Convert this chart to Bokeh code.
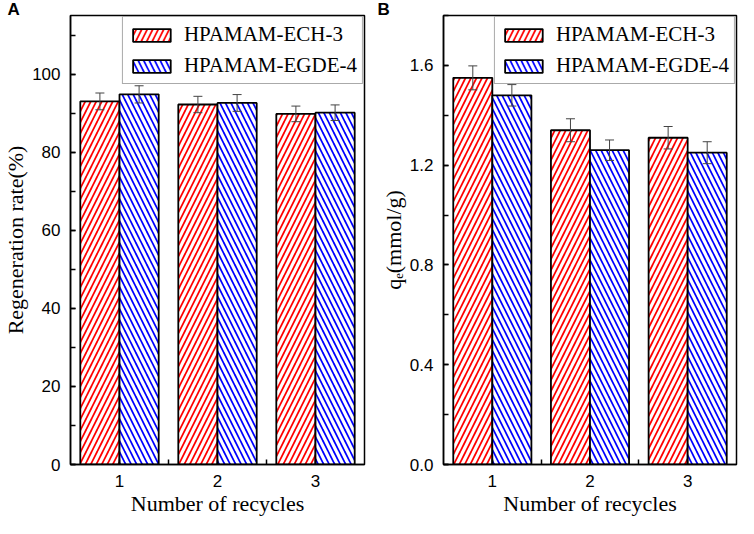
from bokeh.plotting import figure
from bokeh.models import (ColumnDataSource, Whisker, SingleIntervalTicker, FixedTicker,
                          Range1d, Legend, LegendItem, TeeHead, PrintfTickFormatter)
from bokeh.layouts import row
from bokeh.embed import file_html
from bokeh.resources import INLINE

cycles = [1, 2, 3]
tick_labels = ["1", "2", "3"]
series_names = ["HPAMAM-ECH-3", "HPAMAM-EGDE-4"]

regen_ech = [93.0, 92.2, 89.8]
regen_ech_err = [2.15, 2.1, 2.0]
regen_egde = [94.8, 92.6, 90.1]
regen_egde_err = [2.2, 2.15, 2.0]

qe_ech = [1.55, 1.34, 1.31]
qe_ech_err = [0.048, 0.046, 0.045]
qe_egde = [1.48, 1.26, 1.25]
qe_egde_err = [0.043, 0.041, 0.044]

SERIF = "Liberation Serif"
SANS = "Liberation Sans"

H = 518
TOP = 5
BOTTOM = 54


def make_panel(letter, ech, ech_err, egde, egde_err, ymax, interval, ylabel,
               width, left, right):
    p = figure(width=width, height=H, x_range=Range1d(0.5, 3.5),
               y_range=Range1d(0, ymax), output_backend="svg", toolbar_location=None,
               min_border_left=left, min_border_right=right, min_border_top=TOP,
               min_border_bottom=BOTTOM, title=letter)
    p.title.align = "left"
    p.title.offset = -(left - 3)
    p.title.standoff = -6
    p.title.text_font = SANS
    p.title.text_font_style = "bold"
    p.title.text_font_size = "17px"
    p.title.text_color = "black"

    p.grid.visible = False
    p.outline_line_color = "black"
    p.outline_line_width = 1.5
    p.background_fill_color = "white"
    p.border_fill_color = "white"

    renderers = []
    for offset, vals, errs, color, pat in [(-0.2, ech, ech_err, "#ff0000", "/"),
                                           (0.2, egde, egde_err, "#0000ff", "\\")]:
        xs = [c + offset for c in cycles]
        src = ColumnDataSource(dict(
            x=xs, top=vals,
            upper=[v + e for v, e in zip(vals, errs)],
            lower=[v - e for v, e in zip(vals, errs)]))
        r = p.vbar(x="x", top="top", width=0.4, bottom=0, source=src,
                   fill_color="white", line_color="black", line_width=1.8,
                   hatch_pattern=pat, hatch_color=color, hatch_scale=11,
                   hatch_weight=1.7)
        renderers.append(r)
        w = Whisker(base="x", upper="upper", lower="lower", source=src,
                    line_color="#444444", line_width=1, level="overlay",
                    upper_head=TeeHead(size=9, line_color="#444444", line_width=1),
                    lower_head=TeeHead(size=9, line_color="#444444", line_width=1))
        p.add_layout(w)

    legend = Legend(items=[LegendItem(label=series_names[0], renderers=[renderers[0]]),
                           LegendItem(label=series_names[1], renderers=[renderers[1]])],
                    location="top_right", margin=1, padding=5, spacing=6,
                    glyph_width=47, glyph_height=16, label_standoff=9,
                    label_text_font=SERIF, label_text_font_size="21px",
                    label_text_color="black",
                    border_line_color="#555555", border_line_width=1,
                    background_fill_alpha=1.0)
    p.add_layout(legend)

    xa = p.xaxis[0]
    xa.ticker = FixedTicker(ticks=cycles, minor_ticks=[1.5, 2.5])
    xa.major_label_overrides = {c: t for c, t in zip(cycles, tick_labels)}
    xa.axis_label = "Number of recycles"

    ya = p.yaxis[0]
    ya.ticker = SingleIntervalTicker(interval=interval, num_minor_ticks=2)
    ya.axis_label = ylabel
    if interval < 1:
        ya.formatter = PrintfTickFormatter(format="%.1f")

    for ax in (xa, ya):
        ax.axis_line_color = "black"
        ax.axis_line_width = 1.5
        ax.major_tick_in = 5
        ax.major_tick_out = 0
        ax.minor_tick_in = 5
        ax.minor_tick_out = 0
        ax.major_tick_line_color = "black"
        ax.minor_tick_line_color = "black"
        ax.major_tick_line_width = 1.5
        ax.minor_tick_line_width = 1.5
        ax.major_label_text_font = SANS
        ax.major_label_text_font_size = "17px"
        ax.major_label_text_color = "black"
        ax.major_label_standoff = 10
        ax.axis_label_text_font = SERIF
        ax.axis_label_text_font_size = "22px"
        ax.axis_label_text_font_style = "normal"
        ax.axis_label_text_color = "black"
        ax.axis_label_standoff = 1
    return p


pa = make_panel("A", regen_ech, regen_ech_err, regen_egde, regen_egde_err,
                115, 20, "Regeneration rate(%)", 374, 66, 10)
pb = make_panel("B", qe_ech, qe_ech_err, qe_egde, qe_egde_err,
                1.8, 0.4, "q\u2091(mmol/g)", 364, 69, 2)

layout = row(pa, pb)
open("out.html", "w").write(file_html(layout, INLINE))
